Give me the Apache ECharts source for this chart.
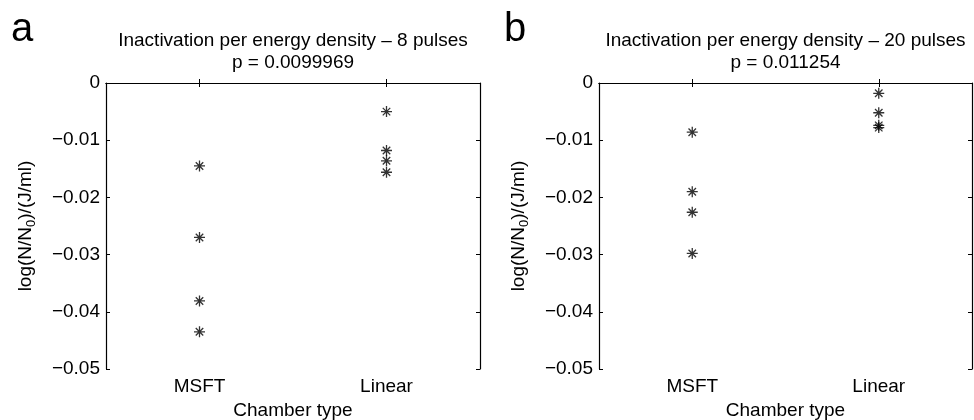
<!DOCTYPE html>
<html>
<head>
<meta charset="utf-8">
<title>Inactivation per energy density</title>
<script src="https://cdn.jsdelivr.net/npm/echarts@6/dist/echarts.min.js"></script>
<style>
  html, body { margin: 0; padding: 0; background: #fff; }
  #chart { width: 974px; height: 420px; }
</style>
</head>
<body>
<div id="chart"></div>
<script>
// categories on x
var chamberTypes = ['MSFT', 'Linear']

// panel a - 8 pulses
var msft8 = [-0.0145, -0.0270, -0.0381, -0.0435]
var linear8 = [-0.0050, -0.0118, -0.0136, -0.0156]

// panel b - 20 pulses
var msft20 = [-0.0086, -0.0190, -0.0226, -0.0298]
var linear20 = [-0.0018, -0.0052, -0.0074, -0.0078]

var titles = [
  'Inactivation per energy density \u2013 8 pulses\np = 0.0099969',
  'Inactivation per energy density \u2013 20 pulses\np = 0.011254'
]
var panelLetters = ['a', 'b']

var fontFamily = 'Liberation Sans, Arial, Helvetica, sans-serif'
var fontSize = 19
var lineColor = '#000'

// matlab style asterisk marker
var starSymbol = 'path://M5,0L5,10M0,5L10,5M1.6,1.6L8.4,8.4M1.6,8.4L8.4,1.6'

var myChart = echarts.init(document.getElementById('chart'), null, { renderer: 'canvas' })

// outerBoundsMode none -> keep the plot boxes where they are
var grids = [
  { left: 106, top: 83, width: 374, height: 286, outerBoundsMode: 'none' },
  { left: 599, top: 83, width: 373, height: 286, outerBoundsMode: 'none' }
]

function yLabel(v) {
  if (Math.abs(v) < 1e-9) return '0'
  return '\u2212' + Math.abs(v).toFixed(2)
}

function toPoints(cat, arr) {
  return arr.map(function (v) { return [cat, v] })
}

var xAxes = []
var yAxes = []
var series = []
var titleList = []

grids.forEach(function (g, i) {
  // bottom x axis with labels
  xAxes.push({
    gridIndex: i,
    type: 'category',
    data: chamberTypes,
    position: 'bottom',
    boundaryGap: true,
    name: 'Chamber type',
    nameLocation: 'middle',
    nameGap: 29,
    nameTextStyle: { color: lineColor, fontSize: fontSize, fontFamily: fontFamily },
    axisLine: { show: true, lineStyle: { color: lineColor, width: 1.2 } },
    axisTick: { show: true, inside: true, alignWithLabel: true, length: 4, lineStyle: { color: lineColor } },
    axisLabel: { color: lineColor, fontSize: fontSize, fontFamily: fontFamily, margin: 8 },
    splitLine: { show: false }
  })
  // top x axis (ticks only)
  xAxes.push({
    gridIndex: i,
    type: 'category',
    data: chamberTypes,
    position: 'top',
    boundaryGap: true,
    axisLine: { show: true, lineStyle: { color: lineColor, width: 1.2 } },
    axisTick: { show: true, inside: true, alignWithLabel: true, length: 4, lineStyle: { color: lineColor } },
    axisLabel: { show: false },
    splitLine: { show: false }
  })
  // left y axis
  yAxes.push({
    gridIndex: i,
    type: 'value',
    position: 'left',
    min: -0.05,
    max: 0,
    interval: 0.01,
    name: 'log(N/N{s|0})/(J/ml)',
    nameLocation: 'middle',
    nameRotate: 90,
    nameGap: 68,
    nameTextStyle: {
      color: lineColor, fontSize: fontSize, fontFamily: fontFamily,
      rich: { s: { fontSize: 13, fontFamily: fontFamily, color: lineColor, padding: [11, 0, 0, 0] } }
    },
    axisLine: { show: true, lineStyle: { color: lineColor, width: 1.2 } },
    axisTick: { show: true, inside: true, length: 4, lineStyle: { color: lineColor } },
    axisLabel: { color: lineColor, fontSize: fontSize, fontFamily: fontFamily, margin: 6, formatter: yLabel },
    splitLine: { show: false }
  })
  // right y axis (ticks only)
  yAxes.push({
    gridIndex: i,
    type: 'value',
    position: 'right',
    min: -0.05,
    max: 0,
    interval: 0.01,
    axisLine: { show: true, lineStyle: { color: lineColor, width: 1.2 } },
    axisTick: { show: true, inside: true, length: 4, lineStyle: { color: lineColor } },
    axisLabel: { show: false },
    splitLine: { show: false }
  })

  titleList.push({
    text: titles[i],
    left: g.left + g.width / 2,
    top: 30,
    padding: 0,
    textAlign: 'center',
    textStyle: { color: lineColor, fontSize: fontSize, fontWeight: 'normal', fontFamily: fontFamily, lineHeight: 22 }
  })
  titleList.push({
    text: panelLetters[i],
    left: i === 0 ? 11 : 504,
    top: 10,
    padding: 0,
    textStyle: { color: lineColor, fontSize: 40, fontWeight: 'normal', fontFamily: fontFamily, lineHeight: 40 }
  })
})

var panelData = [
  [msft8, linear8],
  [msft20, linear20]
]

panelData.forEach(function (pair, i) {
  series.push({
    type: 'scatter',
    xAxisIndex: i * 2,
    yAxisIndex: i * 2,
    symbol: starSymbol,
    symbolSize: 11,
    itemStyle: { color: 'transparent', borderColor: lineColor, borderWidth: 1.3 },
    emphasis: { disabled: true },
    data: toPoints(chamberTypes[0], pair[0]).concat(toPoints(chamberTypes[1], pair[1]))
  })
})

var option = {
  backgroundColor: '#fff',
  animation: false,
  title: titleList,
  grid: grids,
  xAxis: xAxes,
  yAxis: yAxes,
  series: series
}

myChart.setOption(option, true)
</script>
</body>
</html>
